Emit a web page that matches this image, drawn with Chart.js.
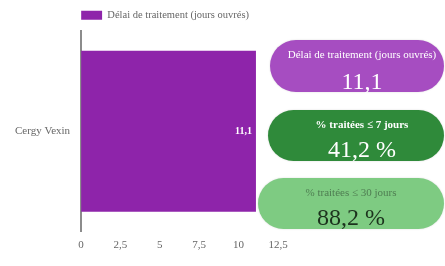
<!DOCTYPE html>
<html>
<head>
<meta charset="utf-8">
<script src="https://cdn.jsdelivr.net/npm/chart.js@4"></script>
<style>
    html, body { margin: 0; padding: 0; background: #fff; }
    #wrap { position: relative; width: 445px; height: 266px; overflow: hidden; }
    #wrap canvas { position: absolute; left: 0; top: 0; }
    .card {
        position: absolute;
        border-radius: 26px;
        text-align: center;
        font-family: "Liberation Serif", serif;
        box-shadow: 0 0 2px rgba(0,0,0,0.15);
    }
    .card .t { font-size: 11px; margin-top: 7px; line-height: 14px; white-space: nowrap; }
    .card .v { font-size: 24px; line-height: 30px; margin-top: 3px; }
</style>
</head>
<body>
<div id="wrap">
    <canvas id="chart" width="445" height="266"></canvas>
    <div class="card" id="c1" style="left:270px; top:40px; width:174px; height:52px; background:#a64dc1; color:#fff; padding-left:10px; box-sizing:border-box;">
        <div class="t"></div><div class="v" style="margin-top:5px;"></div>
    </div>
    <div class="card" id="c2" style="left:268px; top:110px; width:176px; height:51px; background:#2f8a3a; color:#fff; padding-left:12px; box-sizing:border-box;">
        <div class="t" style="font-weight:bold;"></div><div class="v"></div>
    </div>
    <div class="card" id="c3" style="left:258px; top:178px; width:186px; height:51px; background:#7ecb82; color:#1c321d;">
        <div class="t" style="color:#4f7d52;"></div><div class="v"></div>
    </div>
</div>
<script>
// data
const categories = ['Cergy Vexin'];
const seriesLabel = 'Délai de traitement (jours ouvrés)';
const delais = [11.1];
const xTicks = [0, 2.5, 5, 7.5, 10, 12.5];

// indicateurs affichés à droite
const cardTitles = ['Délai de traitement (jours ouvrés)', '% traitées ≤ 7 jours', '% traitées ≤ 30 jours'];
const cardValues = ['11,1', '41,2 %', '88,2 %'];

const fmt = v => String(v).replace('.', ',');

['c1', 'c2', 'c3'].forEach((id, i) => {
    const el = document.getElementById(id);
    el.querySelector('.t').textContent = cardTitles[i];
    el.querySelector('.v').textContent = cardValues[i];
});

const valueLabels = {
    id: 'valueLabels',
    afterDatasetsDraw(chart) {
        const ctx = chart.ctx;
        const meta = chart.getDatasetMeta(0);
        ctx.save();
        ctx.font = 'bold 10px "Liberation Serif"';
        ctx.fillStyle = '#ffffff';
        ctx.textAlign = 'right';
        ctx.textBaseline = 'middle';
        meta.data.forEach((bar, i) => {
            ctx.fillText(fmt(delais[i]), bar.x - 4, bar.y);
        });
        ctx.restore();
    }
};

Chart.defaults.font.family = '"Liberation Serif", serif';
Chart.defaults.color = '#666';

new Chart(document.getElementById('chart'), {
    type: 'bar',
    data: {
        labels: categories,
        datasets: [{
            label: seriesLabel,
            data: delais,
            backgroundColor: '#8e24aa',
            borderWidth: 0,
            barPercentage: 1,
            categoryPercentage: 0.8
        }]
    },
    options: {
        indexAxis: 'y',
        responsive: false,
        animation: false,
        layout: { padding: { left: 4, right: 167, top: 10, bottom: 7 } },
        plugins: {
            legend: {
                fullSize: false,
                align: 'start',
                labels: {
                    boxWidth: 21,
                    boxHeight: 9,
                    padding: 0,
                    font: { size: 10.5 },
                    color: '#666'
                }
            },
            tooltip: { enabled: false }
        },
        scales: {
            x: {
                min: 0,
                max: 12.5,
                afterBuildTicks: axis => { axis.ticks = xTicks.map(v => ({ value: v })); },
                grid: { display: false, drawTicks: false },
                border: { display: false },
                ticks: {
                    padding: 7,
                    font: { size: 11 },
                    callback: v => fmt(v)
                }
            },
            y: {
                grid: { display: false, drawTicks: false },
                border: { display: true, color: '#8c8c8c', width: 2 },
                ticks: { padding: 11, font: { size: 11 } }
            }
        }
    },
    plugins: [valueLabels]
});
</script>
</body>
</html>
